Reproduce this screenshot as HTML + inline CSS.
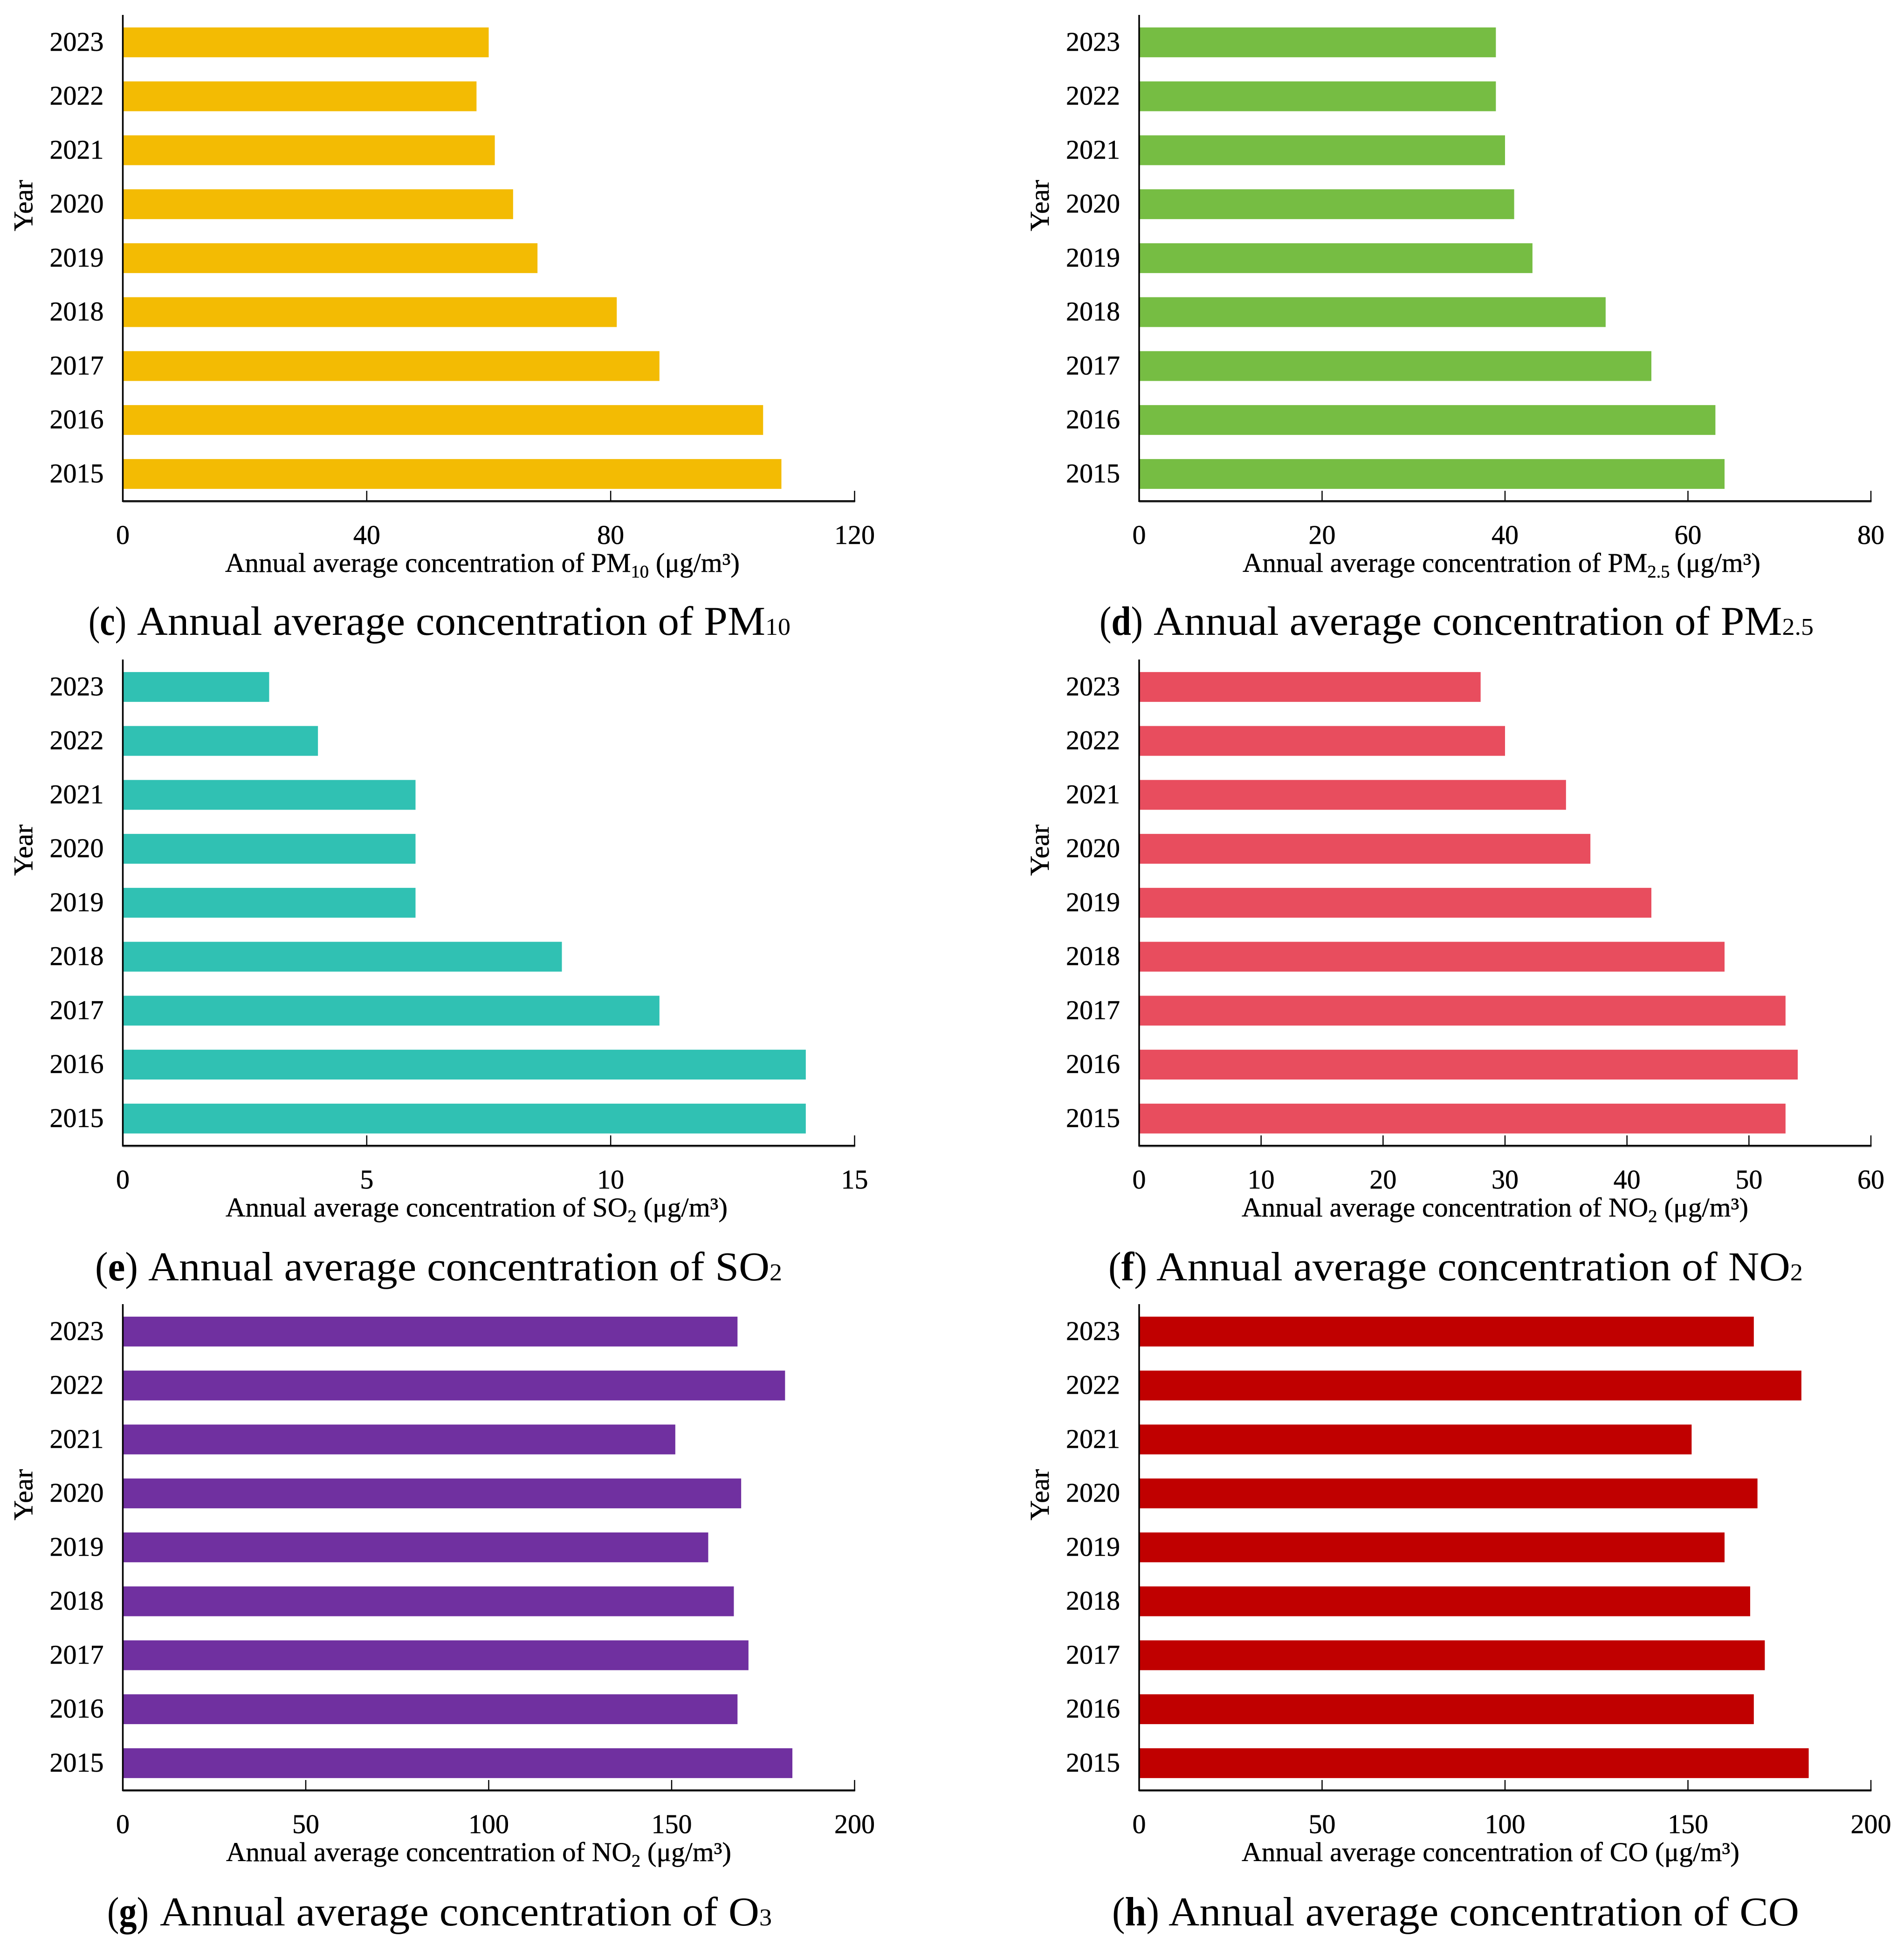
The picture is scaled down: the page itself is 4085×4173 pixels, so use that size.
<!DOCTYPE html>
<html lang="en">
<head>
<meta charset="utf-8">
<title>Annual average pollutant concentrations</title>
<style>
html,body{margin:0;padding:0;background:#fff;}
svg{display:block;}
text{font-family:"Liberation Serif","Noto Serif CJK SC",serif;fill:#000;}
.tick{font-size:58px;stroke:#000;stroke-width:0.5px;}
.axis-title{font-size:58px;stroke:#000;stroke-width:0.5px;}
.caption{font-size:88px;}
</style>
</head>
<body>
<svg id="figure" xmlns="http://www.w3.org/2000/svg" width="4085" height="4173" viewBox="0 0 4085 4173">
<rect x="0" y="0" width="4085" height="4173" fill="#ffffff"/>

<g id="chart-pm10">
<text class="axis-title" x="483" y="1227" textLength="1104" lengthAdjust="spacingAndGlyphs">Annual average concentration of PM<tspan font-size="38" dy="12">10</tspan><tspan dy="-12"> (μg/m³)</tspan></text>
<text class="caption" x="190" y="1362" textLength="81" lengthAdjust="spacingAndGlyphs">(<tspan font-weight="bold">c</tspan>)</text>
<text class="caption" x="294" y="1362" textLength="1402" lengthAdjust="spacingAndGlyphs">Annual average concentration of PM<tspan font-size="52">10</tspan></text>
</g>

<g id="chart-pm25">
<text class="axis-title" x="2666" y="1227" textLength="1111" lengthAdjust="spacingAndGlyphs">Annual average concentration of PM<tspan font-size="38" dy="12">2.5</tspan><tspan dy="-12"> (μg/m³)</tspan></text>
<text class="caption" x="2359" y="1362" textLength="93" lengthAdjust="spacingAndGlyphs">(<tspan font-weight="bold">d</tspan>)</text>
<text class="caption" x="2475" y="1362" textLength="1416" lengthAdjust="spacingAndGlyphs">Annual average concentration of PM<tspan font-size="52">2.5</tspan></text>
</g>

<g id="chart-so2">
<text class="axis-title" x="484" y="2610" textLength="1077" lengthAdjust="spacingAndGlyphs">Annual average concentration of SO<tspan font-size="38" dy="12">2</tspan><tspan dy="-12"> (μg/m³)</tspan></text>
<text class="caption" x="204" y="2747" textLength="92" lengthAdjust="spacingAndGlyphs">(<tspan font-weight="bold">e</tspan>)</text>
<text class="caption" x="318" y="2747" textLength="1360" lengthAdjust="spacingAndGlyphs">Annual average concentration of SO<tspan font-size="52">2</tspan></text>
</g>

<g id="chart-no2">
<text class="axis-title" x="2664" y="2610" textLength="1087" lengthAdjust="spacingAndGlyphs">Annual average concentration of NO<tspan font-size="38" dy="12">2</tspan><tspan dy="-12"> (μg/m³)</tspan></text>
<text class="caption" x="2378" y="2747" textLength="83" lengthAdjust="spacingAndGlyphs">(<tspan font-weight="bold">f</tspan>)</text>
<text class="caption" x="2481" y="2747" textLength="1387" lengthAdjust="spacingAndGlyphs">Annual average concentration of NO<tspan font-size="52">2</tspan></text>
</g>

<g id="chart-o3">
<text class="axis-title" x="485" y="3993" textLength="1084" lengthAdjust="spacingAndGlyphs">Annual average concentration of NO<tspan font-size="38" dy="12">2</tspan><tspan dy="-12"> (μg/m³)</tspan></text>
<text class="caption" x="230" y="4131" textLength="89" lengthAdjust="spacingAndGlyphs">(<tspan font-weight="bold">g</tspan>)</text>
<text class="caption" x="343" y="4131" textLength="1313" lengthAdjust="spacingAndGlyphs">Annual average concentration of O<tspan font-size="52">3</tspan></text>
</g>

<g id="chart-co">
<text class="axis-title" x="2664" y="3993" textLength="1068" lengthAdjust="spacingAndGlyphs">Annual average concentration of CO (μg/m³)</text>
<text class="caption" x="2386" y="4131" textLength="101" lengthAdjust="spacingAndGlyphs">(<tspan font-weight="bold">h</tspan>)</text>
<text class="caption" x="2507" y="4131" textLength="1353" lengthAdjust="spacingAndGlyphs">Annual average concentration of CO</text>
</g>
</svg>

<script>
var years = ["2023","2022","2021","2020","2019","2018","2017","2016","2015"];

var pm10Values = [60,58,61,64,68,81,88,105,108];
var pm25Values = [39,39,40,41,43,51,56,63,64];
var so2Values = [3,4,6,6,6,9,11,14,14];
var no2Values = [28,30,35,37,42,48,53,54,53];
var o3Values = [168,181,151,169,160,167,171,168,183];
var coValues = [168,181,151,169,160,167,171,168,183];

var pm10Ticks = [0,40,80,120];
var pm25Ticks = [0,20,40,60,80];
var so2Ticks = [0,5,10,15];
var no2Ticks = [0,10,20,30,40,50,60];
var o3Ticks = [0,50,100,150,200];
var coTicks = [0,50,100,150,200];

var SVG_NS = "http://www.w3.org/2000/svg";
var PLOT_WIDTH = 1570;
var ROW_HEIGHT = 1383;
var COLUMN_LEFT = [263.5, 2444];
var BAND_TOP = 33;
var BAND_STEP = 115.75;
var BAR_THICKNESS = 64;
var AXIS_BOTTOM = 1075;

function shape(tag, parent) {
  var el = document.createElementNS(SVG_NS, tag);
  parent.appendChild(el);
  return el;
}

function line(parent, x1, y1, x2, y2, width, color) {
  var el = shape("line", parent);
  el.setAttribute("x1", x1);
  el.setAttribute("y1", y1);
  el.setAttribute("x2", x2);
  el.setAttribute("y2", y2);
  el.setAttribute("stroke", color);
  el.setAttribute("stroke-width", width);
  return el;
}

function drawChart(id, prefix, column, row, values, ticks, color) {
  var group = document.getElementById(id);
  var left = COLUMN_LEFT[column];
  var offset = row * ROW_HEIGHT;
  var max = ticks[ticks.length - 1];
  function xScale(v) { return left + (v / max) * PLOT_WIDTH; }
  function yScale(i) { return offset + BAND_TOP + BAND_STEP * (i + 0.5); }

  values.forEach(function (v, i) {
    var bar = shape("rect", group);
    
    
    bar.setAttribute("x", left + 1.5);
    bar.setAttribute("y", yScale(i) - BAR_THICKNESS / 2);
    bar.setAttribute("width", xScale(v) - left - 1.5);
    bar.setAttribute("height", BAR_THICKNESS);
    bar.setAttribute("fill", color);

    var label = shape("text", group);
    
    
    label.setAttribute("class", "tick");
    label.setAttribute("x", left - 41);
    label.setAttribute("y", yScale(i) + 18);
    label.setAttribute("text-anchor", "end");
    label.textContent = years[i];
  });

  var yAxis = line(group, left, offset + 32, left, offset + AXIS_BOTTOM + 2, 3.5, "#000");
  
  

  var shadow = line(group, left, offset + AXIS_BOTTOM + 2.5, xScale(max) + 1, offset + AXIS_BOTTOM + 2.5, 2, "#999");
  
  

  var xAxis = line(group, left - 1.5, offset + AXIS_BOTTOM, xScale(max) + 1.5, offset + AXIS_BOTTOM, 3.5, "#000");
  
  

  ticks.forEach(function (t) {
    var mark = line(group, xScale(t), offset + 1053, xScale(t), offset + AXIS_BOTTOM, 2.5, "#000");
    
    

    var tickLabel = shape("text", group);
    
    
    tickLabel.setAttribute("class", "tick");
    tickLabel.setAttribute("x", xScale(t));
    tickLabel.setAttribute("y", offset + 1167);
    tickLabel.setAttribute("text-anchor", "middle");
    tickLabel.textContent = t;
  });

  var yTitle = shape("text", group);
  
  
  yTitle.setAttribute("class", "axis-title");
  yTitle.setAttribute("text-anchor", "middle");
  yTitle.setAttribute("transform", "translate(" + (left - 194) + "," + (offset + 441) + ") rotate(-90) scale(1.03,1)");
  yTitle.textContent = "Year";
}

drawChart("chart-pm10", "pm10", 0, 0, pm10Values, pm10Ticks, "#F3BB03");
drawChart("chart-pm25", "pm25", 1, 0, pm25Values, pm25Ticks, "#76BD43");
drawChart("chart-so2", "so2", 0, 1, so2Values, so2Ticks, "#30C1B3");
drawChart("chart-no2", "no2", 1, 1, no2Values, no2Ticks, "#E84D5E");
drawChart("chart-o3", "o3", 0, 2, o3Values, o3Ticks, "#7030A0");
drawChart("chart-co", "co", 1, 2, coValues, coTicks, "#C00000");
</script>
</body>
</html>
